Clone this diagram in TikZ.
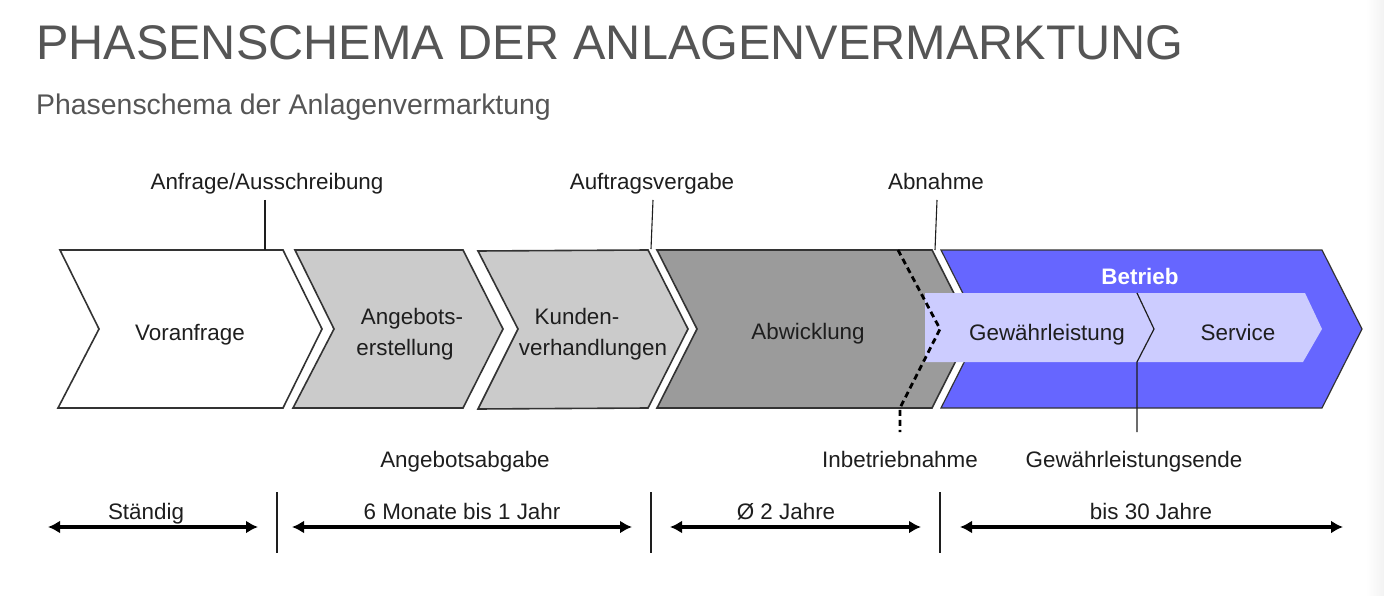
\documentclass[tikz,border=0pt]{standalone}
\usepackage{fontspec}
\setmainfont{Liberation Sans}
\usetikzlibrary{arrows.meta}
\definecolor{ttl}{HTML}{555555}
\definecolor{txt}{HTML}{1E1E1E}
\definecolor{edge}{HTML}{333333}
\definecolor{lgray}{HTML}{CBCBCB}
\definecolor{dgray}{HTML}{9B9B9B}
\definecolor{blue1}{HTML}{6666FF}
\definecolor{lav}{HTML}{CCCCFF}
\begin{document}
\begin{tikzpicture}[x=1pt,y=-1pt,
  lbl/.style={font=\fontsize{22.4}{26}\selectfont, text=txt, inner sep=0pt, anchor=base},
  chev/.style={draw=edge, line width=1.6pt, line join=miter},
  tarrow/.style={line width=3.2pt, {Latex[length=12pt,width=13pt]}-{Latex[length=12pt,width=13pt]}},
  sepline/.style={draw=txt, line width=1.2pt},
  tick/.style={draw=txt, line width=1.1pt}]
\useasboundingbox (0,0) rectangle (1384,596);
\fill[white] (0,0) rectangle (1384,596);
\shade[left color=white, right color=black!5] (1366,0) rectangle (1384,596);

% titles
\node[anchor=base west, inner sep=0pt, text=ttl, font=\fontsize{48.6}{56}\selectfont] (title) at (36,60) {PHASENSCHEMA DER ANLAGENVERMARKTUNG};
\node[anchor=base west, inner sep=0pt, text=ttl, font=\fontsize{28.4}{32}\selectfont] (sub) at (36,115) {Phasenschema der Anlagenvermarktung};

% chevrons
\draw[chev, fill=white] (60,250) -- (283,250) -- (322,329) -- (283,408) -- (58,408) -- (99,329) -- cycle;
\draw[chev, fill=lgray] (295,250) -- (463,250) -- (503,329) -- (463,408) -- (293,408) -- (334,329) -- cycle;
\draw[chev, fill=lgray] (478,251) -- (648,250) -- (688,329) -- (648,408) -- (478,409) -- (518,329) -- cycle;
\draw[chev, fill=dgray] (657,250) -- (932,250) -- (972,329) -- (932,408) -- (657,408) -- (697,329) -- cycle;
\draw[chev, fill=blue1, line width=1.2pt] (941,250) -- (1322,250) -- (1362,329) -- (1322,408) -- (941,408) -- (981,329) -- cycle;

% inner bar
\fill[lav] (925,293) -- (1137,293) -- (1154,329) -- (1137,362) -- (925,362) -- cycle;
\fill[lav] (1137,293) -- (1305,293) -- (1322,329) -- (1303,362) -- (1137,362) -- (1154,329) -- cycle;

% dashed Inbetriebnahme line
\coordinate (d1) at (898,250);
\coordinate (d2) at (940,329);
\coordinate (d3) at (900,408);
\coordinate (d4) at (900,432);
\draw[line width=2.8pt, dash pattern=on 6pt off 4pt] (d1) -- (d2) -- (d3) -- (d4);

% Gewaehrleistungsende line
\coordinate (g1) at (1137,293);
\coordinate (g2) at (1154,329);
\coordinate (g3) at (1137,362);
\coordinate (g4) at (1137,432);
\draw[sepline] (g1) -- (g2) -- (g3) -- (g4);

% texts in chevrons
\node[lbl] (vor) at (190,340) {Voranfrage};
\node[lbl] (ang1) at (412,324) {Angebots-};
\node[lbl] (ang2) at (405,355) {erstellung};
\node[lbl] (kun1) at (577,324) {Kunden-};
\node[lbl] (kun2) at (593,355) {verhandlungen};
\node[lbl] (abw) at (808,339) {Abwicklung};
\node[lbl, text=white, font=\fontsize{22.4}{26}\selectfont\bfseries] (bet) at (1140,284) {Betrieb};
\node[lbl] (gew) at (1047,340) {Gewährleistung};
\node[lbl] (ser) at (1238,340) {Service};

% labels above
\node[lbl] (anf) at (267,190) {Anfrage/Ausschreibung};
\node[lbl] (auf) at (652,190) {Auftragsvergabe};
\node[lbl] (abn) at (936,190) {Abnahme};
\coordinate (a1) at (265,200); \coordinate (a2) at (265,250);
\coordinate (b1) at (653,200); \coordinate (b2) at (651,249);
\coordinate (c1) at (937,200); \coordinate (c2) at (935,250);
\draw[tick] (a1) -- (a2);
\draw[tick] (b1) -- (b2);
\draw[tick] (c1) -- (c2);

% labels below
\node[lbl] (aba) at (465,467) {Angebotsabgabe};
\node[lbl] (inb) at (900,467) {Inbetriebnahme};
\node[lbl] (gwe) at (1134,467) {Gewährleistungsende};

% time line
\node[lbl] (t1) at (146,519) {Ständig};
\node[lbl] (t2) at (462,519) {6 Monate bis 1 Jahr};
\node[lbl] (t3) at (786,519) {Ø 2 Jahre};
\node[lbl] (t4) at (1151,519) {bis 30 Jahre};
\coordinate (p1) at (48,527); \coordinate (q1) at (258,527);
\coordinate (p2) at (292,527); \coordinate (q2) at (632,527);
\coordinate (p3) at (670,527); \coordinate (q3) at (921,527);
\coordinate (p4) at (960,527); \coordinate (q4) at (1343,527);
\draw[tarrow] (p1) -- (q1);
\draw[tarrow] (p2) -- (q2);
\draw[tarrow] (p3) -- (q3);
\draw[tarrow] (p4) -- (q4);
\coordinate (s1a) at (277,492); \coordinate (s1b) at (277,553);
\coordinate (s2a) at (651,492); \coordinate (s2b) at (651,553);
\coordinate (s3a) at (940,492); \coordinate (s3b) at (940,553);
\draw[tick] (s1a) -- (s1b);
\draw[tick] (s2a) -- (s2b);
\draw[tick] (s3a) -- (s3b);
\end{tikzpicture}
\end{document}
